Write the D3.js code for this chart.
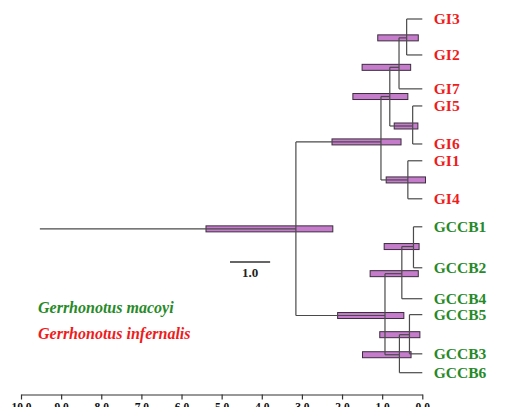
<!DOCTYPE html>
<html>
<head>
<meta charset="utf-8">
<script src="https://cdn.jsdelivr.net/npm/d3@7"></script>
<style>
  html, body { margin: 0; padding: 0; background: #fff; }
  svg { display: block; }
</style>
</head>
<body>
<svg id="chart" width="511" height="407"></svg>
<script>
// Tips (present day, age 0) and the clade each one hangs from
const leafNames   = ["GI3", "GI2", "GI7", "GI5", "GI6", "GI1", "GI4",
                     "GCCB1", "GCCB2", "GCCB4", "GCCB5", "GCCB3", "GCCB6"];
const leafParents = ["D", "D", "C", "E", "E", "F", "F",
                     "I", "I", "H", "K", "K", "J"];
const leafGroups  = ["infernalis", "infernalis", "infernalis", "infernalis", "infernalis", "infernalis", "infernalis",
                     "macoyi", "macoyi", "macoyi", "macoyi", "macoyi", "macoyi"];
// Vertical order of the tips (row units)
const leafRows    = [0, 1.22, 2.37, 2.95, 4.24, 4.81, 6.10,
                     7.05, 8.44, 9.49, 10.03, 11.36, 12];

// Internal nodes: divergence age (Ma) with 95% HPD interval
const cladeIds     = ["root", "A", "B", "C", "D", "E", "F", "G", "H", "I", "J", "K"];
const cladeParents = [null, "root", "A", "B", "C", "B", "A", "root", "G", "H", "G", "J"];
const cladeAges    = [3.15, 1.03, 0.81, 0.58, 0.39, 0.24, 0.36, 0.93, 0.51, 0.22, 0.57, 0.32];
const hpdOld       = [5.39, 2.25, 1.73, 1.50, 1.11, 0.70, 0.90, 2.11, 1.30, 0.95, 1.49, 1.06];
const hpdYoung     = [2.23, 0.53, 0.36, 0.29, 0.10, 0.11, -0.08, 0.46, 0.10, 0.08, 0.28, 0.06];
const cladeRows    = [7.12, 4.17, 2.63, 1.64, 0.64, 3.63, 5.46, 10.06, 8.64, 7.72, 11.39, 10.71];

const stemAge = 9.53;
const axisTicks = [10, 9, 8, 7, 6, 5, 4, 3, 2, 1, 0];
const scaleBarLength = 1.0;

const legendItems = ["Gerrhonotus macoyi", "Gerrhonotus infernalis"];
const legendGroups = ["macoyi", "infernalis"];

const groupColor = { macoyi: "#278a27", infernalis: "#ee1c1c" };
const serif = "'Liberation Serif', 'Times New Roman', serif";

const svg = d3.select("#chart");

const x = d3.scaleLinear().domain([10, 0]).range([21, 422.3]);
const y = d3.scaleLinear().domain([0, 12]).range([19, 372.7]);

// Assemble node table
const nodes = new Map();
cladeIds.forEach((id, i) => nodes.set(id, {
  id, parent: cladeParents[i], age: cladeAges[i], row: cladeRows[i],
  hpd: [hpdOld[i], hpdYoung[i]], leaf: false, children: []
}));
leafNames.forEach((id, i) => nodes.set(id, {
  id, parent: leafParents[i], age: 0, row: leafRows[i],
  group: leafGroups[i], leaf: true, children: []
}));
nodes.forEach(n => { if (n.parent) nodes.get(n.parent).children.push(n); });
const all = Array.from(nodes.values());
const clades = all.filter(n => !n.leaf);
const rootNode = nodes.get("root");

// HPD bars
svg.append("g").selectAll("rect")
  .data(clades)
  .join("rect")
  .attr("x", d => x(d.hpd[0]))
  .attr("width", d => x(d.hpd[1]) - x(d.hpd[0]))
  .attr("y", d => y(d.row) - 3)
  .attr("height", 6)
  .attr("fill", "#c47ccb")
  .attr("stroke", "#3c2c3e")
  .attr("stroke-width", 1);

// Branches
const branchColor = "#4a4a4a";
const branches = svg.append("g")
  .attr("stroke", branchColor)
  .attr("stroke-width", 1.2)
  .attr("fill", "none");

// horizontal segments from each parent to its child
branches.selectAll("line.h")
  .data(all.filter(n => n.parent))
  .join("line")
  .attr("class", "h")
  .attr("x1", d => x(nodes.get(d.parent).age))
  .attr("x2", d => x(d.age))
  .attr("y1", d => y(d.row))
  .attr("y2", d => y(d.row));

// vertical connectors at each clade
branches.selectAll("line.v")
  .data(clades)
  .join("line")
  .attr("class", "v")
  .attr("x1", d => x(d.age))
  .attr("x2", d => x(d.age))
  .attr("y1", d => y(d3.min(d.children, c => c.row)))
  .attr("y2", d => y(d3.max(d.children, c => c.row)));

// stem of the root
branches.append("line")
  .attr("x1", x(stemAge))
  .attr("x2", x(rootNode.age))
  .attr("y1", y(rootNode.row))
  .attr("y2", y(rootNode.row));

// Tip labels
svg.append("g").selectAll("text")
  .data(all.filter(n => n.leaf))
  .join("text")
  .attr("x", x(0) + 11.5)
  .attr("y", d => y(d.row))
  .attr("dy", "0.35em")
  .attr("font-family", serif)
  .attr("font-weight", "bold")
  .attr("font-size", 15.5)
  .attr("fill", d => groupColor[d.group])
  .text(d => d.id);

// Scale bar
const sbX0 = 230;
svg.append("line")
  .attr("x1", sbX0)
  .attr("x2", sbX0 + (x(0) - x(scaleBarLength)))
  .attr("y1", 262).attr("y2", 262)
  .attr("stroke", "#333").attr("stroke-width", 1.3);
svg.append("text")
  .attr("x", sbX0 + (x(0) - x(scaleBarLength)) / 2)
  .attr("y", 272)
  .attr("dy", "0.35em")
  .attr("text-anchor", "middle")
  .attr("font-family", serif)
  .attr("font-weight", "bold")
  .attr("font-size", 13)
  .attr("fill", "#222")
  .text(d3.format(".1f")(scaleBarLength));

// Legend
svg.append("g").selectAll("text")
  .data(legendItems)
  .join("text")
  .attr("x", 38)
  .attr("y", (d, i) => 307.5 + i * 25.5)
  .attr("dy", "0.35em")
  .attr("font-family", serif)
  .attr("font-weight", "bold")
  .attr("font-style", "italic")
  .attr("font-size", 16)
  .attr("fill", (d, i) => groupColor[legendGroups[i]])
  .text(d => d);

// Time axis
const axis = d3.axisBottom(x)
  .tickValues(axisTicks)
  .tickFormat(d3.format(".1f"))
  .tickSizeInner(5)
  .tickSizeOuter(0)
  .tickPadding(3);
const gAxis = svg.append("g")
  .attr("transform", "translate(0,394.5)")
  .call(axis);
gAxis.select(".domain").attr("stroke", "#333").attr("stroke-width", 1.2);
gAxis.selectAll(".tick line").attr("stroke", "#333").attr("stroke-width", 1.2);
gAxis.selectAll(".tick text")
  .attr("font-family", serif)
  .attr("font-weight", "bold")
  .attr("font-size", 11.5)
  .attr("fill", "#111");
</script>
</body>
</html>
